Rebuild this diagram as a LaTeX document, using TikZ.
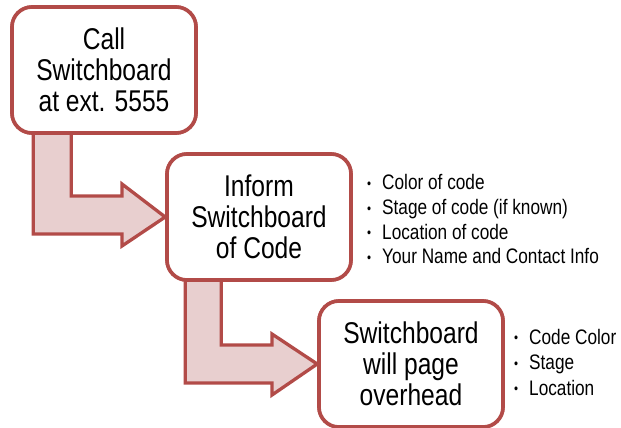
\documentclass[tikz,border=0pt]{standalone}
\usepackage{fontspec}
\setmainfont{Liberation Sans}[FakeStretch=0.82]
\usetikzlibrary{calc}
\definecolor{edgered}{HTML}{B24B48}
\definecolor{pinkfill}{HTML}{E8CFCF}
% small bullet followed by the item text
\newcommand{\itemdot}{\makebox[15pt][l]{\raisebox{1.2pt}{\fontsize{14}{14}\selectfont\textbullet}}}
\begin{document}
\begin{tikzpicture}[x=1pt,y=-1pt,
  stepbox/.style={draw=edgered, line width=3.6pt, fill=white, rounded corners=20pt,
    minimum width=184pt, minimum height=126pt, inner sep=0pt, align=center,
    font=\fontsize{30}{30.8}\selectfont},
  bentarrow/.style={draw=edgered, line width=3.3pt, fill=pinkfill, line join=miter},
  listitem/.style={anchor=base west, inner sep=0pt, font=\fontsize{21}{24}\selectfont}
]
\useasboundingbox (0,0) rectangle (621,428);

% step boxes (placed first so the arrows can refer to them)
\path node[stepbox] (b1) at (104,70) {Call\\Switchboard\\at ext. 5555}
      node[stepbox] (b2) at (259,217) {Inform\\Switchboard\\of Code}
      node[stepbox] (b3) at (411,364) {Switchboard\\will page\\overhead};

% bent block arrows between the steps
\draw[bentarrow] ($(b1.south west)+(23,-6)$) |- (122,234) -- (122,246) -- (b2.west)
   -- (122,184) -- (122,196) -| ($(b1.south west)+(61,-6)$) -- cycle;
\draw[bentarrow] ($(b2.south west)+(20,-6)$) |- (272,383) -- (272,395) -- (b3.west)
   -- (272,334) -- (272,345) -| ($(b2.south west)+(56,-6)$) -- cycle;

% redraw the boxes on top of the arrow stems
\node[stepbox] at (b1) {Call\\Switchboard\\at ext. 5555};
\node[stepbox] at (b2) {Inform\\Switchboard\\of Code};
\node[stepbox] at (b3) {Switchboard\\will page\\overhead};

% bullet lists
\foreach \t [count=\i] in {Color of code, Stage of code (if known), Location of code, Your Name and Contact Info}
  \node[listitem] (la\i) at (367,{189.5+24.8*(\i-1)}) {\itemdot\t};
\foreach \t [count=\i] in {Code Color, Stage, Location}
  \node[listitem] (lb\i) at (514,{344+25.5*(\i-1)}) {\itemdot\t};
\end{tikzpicture}
\end{document}
